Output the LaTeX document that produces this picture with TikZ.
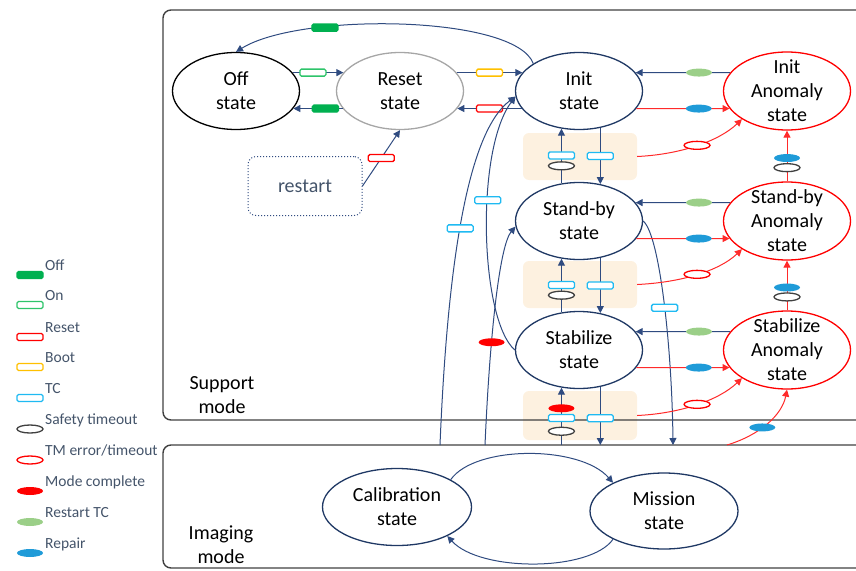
\documentclass[tikz,border=0pt]{standalone}
\usepackage{fontspec}
\setmainfont{Carlito}
\usepackage{xcolor}
\usepackage{tikz}
\usetikzlibrary{arrows.meta,shapes.geometric}

\definecolor{navy}{HTML}{1F3864}
\definecolor{navyln}{HTML}{2F4B80}
\definecolor{redln}{HTML}{FF2A2A}
\definecolor{slate}{HTML}{44546A}
\definecolor{offgreen}{HTML}{00B050}
\definecolor{ongreen}{HTML}{2EC46A}
\definecolor{bootyel}{HTML}{FFC000}
\definecolor{tcblue}{HTML}{1FBAF2}
\definecolor{rtcgreen}{HTML}{9BCF88}
\definecolor{repblue}{HTML}{1F9BD8}
\definecolor{panel}{HTML}{FDF1E0}
\definecolor{boxgray}{HTML}{404040}

\tikzset{
  stat/.style={ellipse, draw=navy, line width=1.3pt, minimum width=127pt, minimum height=77pt, inner sep=0pt, align=center, font=\fontsize{20}{24}\selectfont},
  anom/.style={stat, draw=red, minimum height=78pt, inner ysep=-8pt},
  tagbox/.style={rectangle, rounded corners=1.5pt, minimum width=26pt, minimum height=7pt, inner sep=0pt, line width=1.3pt, fill=white},
  tagoval/.style={ellipse, minimum width=26pt, minimum height=8pt, inner sep=0pt, line width=1.3pt, fill=white},
  offtag/.style={tagbox, draw=offgreen, fill=offgreen},
  ontag/.style={tagbox, draw=ongreen},
  resettag/.style={tagbox, draw=red},
  boottag/.style={tagbox, draw=bootyel},
  tctag/.style={tagbox, draw=tcblue},
  safetag/.style={tagoval, draw=boxgray},
  tmtag/.style={tagoval, draw=red},
  donetag/.style={tagoval, draw=none, fill=red},
  rtctag/.style={tagoval, draw=none, fill=rtcgreen},
  reptag/.style={tagoval, draw=none, fill=repblue},
  nv/.style={draw=navyln, line width=1pt, -{Triangle[length=7pt,width=7pt]}},
  rd/.style={draw=redln, line width=1pt, -{Triangle[length=7pt,width=7pt]}},
  lgl/.style={anchor=base west, text=slate, font=\fontsize{15.5}{18}\selectfont, inner sep=0pt},
  mlab/.style={align=center, font=\fontsize{20}{24}\selectfont},
  modebox/.style={draw=boxgray, line width=1.4pt, rounded corners=8pt},
  pan/.style={fill=panel, rounded corners=6pt, minimum width=114pt, inner sep=0pt}
}

\begin{document}
\begin{tikzpicture}[x=1pt,y=-1pt]
\useasboundingbox (0,0) rectangle (856,570);
\node[pan, minimum height=47pt] (pa) at (580,156.5) {};
\node[pan, minimum height=47pt] (pb) at (580,284.5) {};
\node[pan, minimum height=49pt] (pc) at (580,415.5) {};
\draw[modebox] (163,10) rectangle (880,420);
\draw[modebox] (163,445) rectangle (880,568);
\node[mlab] (smode) at (222,395) {Support\\mode};
\node[mlab] (imode) at (221,545) {Imaging\\mode};
\coordinate (itop) at (163,445);

\node[stat, draw=black] (off) at (236,91) {Off\\state};
\node[stat, draw=gray!70] (reset) at (400,91) {Reset\\state};
\node[stat] (init) at (579,91) {Init\\state};
\node[stat] (stby) at (579,221) {Stand-by\\state};
\node[stat] (stab) at (579,350) {Stabilize\\state};
\node[anom] (iano) at (787,91) {Init\\Anomaly\\state};
\node[anom] (sano) at (787,221) {Stand-by\\Anomaly\\state};
\node[anom] (bano) at (787,350) {Stabilize\\Anomaly\\state};
\node[stat, minimum width=149pt] (calib) at (397,507) {Calibration\\state};
\node[stat, minimum width=148pt, minimum height=76pt] (miss) at (664,511) {Mission\\state};
\node[draw=navyln, dotted, line width=1pt, rounded corners=8pt, minimum width=114pt, minimum height=59pt, text=slate, font=\fontsize{20}{24}\selectfont] (restart) at (305,186) {restart};

\draw[nv] (off.18) -- node[ontag, pos=0.4] (g1) {} (reset.162);
\draw[nv] (reset.197) -- node[offtag, pos=0.35] (g2) {} (off.-17);
\draw[nv] (reset.18) -- node[boottag] (g3) {} (init.162);
\draw[nv] (init.197) -- node[resettag] (g4) {} (reset.-17);
\draw[nv] (restart.east) -- node[resettag] (g5) {} (reset.south);
\draw[nv] (init.149) .. controls (515,15) and (300,12) .. node[offtag, pos=0.7] (g6) {} (off.north);

\draw[nv] (stby.115) -- node[safetag, pos=0.32] (g7) {} node[tctag, pos=0.51] (g8) {} (init.245);
\draw[nv] (init.-60) -- node[tctag] (g9) {} (stby.60);
\draw[nv] (stab.115) -- node[safetag, pos=0.32] (g10) {} node[tctag, pos=0.51] (g11) {} (stby.245);
\draw[nv] (stby.-60) -- node[tctag] (g12) {} (stab.60);
\draw[nv] (stab.245 |- itop) -- node[safetag, pos=0.24] (g13) {} node[tctag, pos=0.47] (g14) {} node[donetag, pos=0.64] (g15) {} (stab.245);
\draw[nv] (stab.-60) -- node[tctag, pos=0.54] (g16) {} (stab.-60 |- itop);

\coordinate (ca) at (440,445);
\coordinate (cc) at (485,445);
\coordinate (cr) at (673,445);
\coordinate (cb) at (727,445);
\draw[nv] (ca) .. controls (448,250) and (470,130) .. node[tctag, pos=0.45] (g17) {} (init.185);
\draw[nv] (stab.west) .. controls (480,320) and (475,150) .. node[tctag, pos=0.6] (g18) {} (init.185);
\draw[nv] (cc) .. controls (490,330) and (500,245) .. node[donetag, pos=0.33] (g19) {} (stby.185);
\draw[nv] (stby.east) .. controls (660,235) and (672,350) .. node[tctag, pos=0.52] (g20) {} (cr);

\draw[nv] (iano.162) -- node[rtctag, pos=0.33] (g21) {} (init.18);
\draw[rd] (init.-17) -- node[reptag, pos=0.67] (g22) {} (iano.197);
\draw[rd] (pa.east) .. controls +(43,-2) and +(-23,22) .. node[tmtag] (g23) {} (iano.212);
\draw[rd] (sano.north) -- node[safetag, pos=0.27] (g24) {} node[reptag, pos=0.46] (g25) {} (iano.south);
\draw[nv] (sano.162) -- node[rtctag, pos=0.33] (g26) {} (stby.18);
\draw[rd] (stby.-17) -- node[reptag, pos=0.67] (g27) {} (sano.197);
\draw[rd] (pb.east) .. controls +(43,-2) and +(-23,22) .. node[tmtag] (g28) {} (sano.212);
\draw[rd] (bano.north) -- node[safetag, pos=0.27] (g29) {} node[reptag, pos=0.46] (g30) {} (sano.south);
\draw[nv] (bano.162) -- node[rtctag, pos=0.33] (g31) {} (stab.18);
\draw[rd] (stab.-17) -- node[reptag, pos=0.67] (g32) {} (bano.197);
\draw[rd] (pc.east) .. controls +(43,-2) and +(-23,22) .. node[tmtag] (g33) {} (bano.212);
\draw[rd] (cb) .. controls (760,435) and (782,415) .. node[reptag, pos=0.42] (g34) {} (bano.south);

\draw[nv] (calib.27) .. controls (475,445) and (580,445) .. (miss.151);
\draw[nv] (miss.209) .. controls (590,572) and (480,572) .. (calib.-30);

\node[offtag] (k1) at (30,275) {};
\node[lgl] (l1) at (45,270) {Off};
\node[ontag] (k2) at (30,305) {};
\node[lgl] (l2) at (45,300) {On};
\node[resettag] (k3) at (30,337) {};
\node[lgl] (l3) at (45,332) {Reset};
\node[boottag] (k4) at (30,367) {};
\node[lgl] (l4) at (45,362) {Boot};
\node[tctag] (k5) at (30,398) {};
\node[lgl] (l5) at (45,393) {TC};
\node[safetag] (k6) at (30,429) {};
\node[lgl] (l6) at (45,424) {Safety timeout};
\node[tmtag] (k7) at (30,460) {};
\node[lgl] (l7) at (45,455) {TM error/timeout};
\node[donetag] (k8) at (30,491) {};
\node[lgl] (l8) at (45,486) {Mode complete};
\node[rtctag] (k9) at (30,522) {};
\node[lgl] (l9) at (45,517) {Restart TC};
\node[reptag] (k10) at (30,553) {};
\node[lgl] (l10) at (45,548) {Repair};
\end{tikzpicture}
\end{document}
